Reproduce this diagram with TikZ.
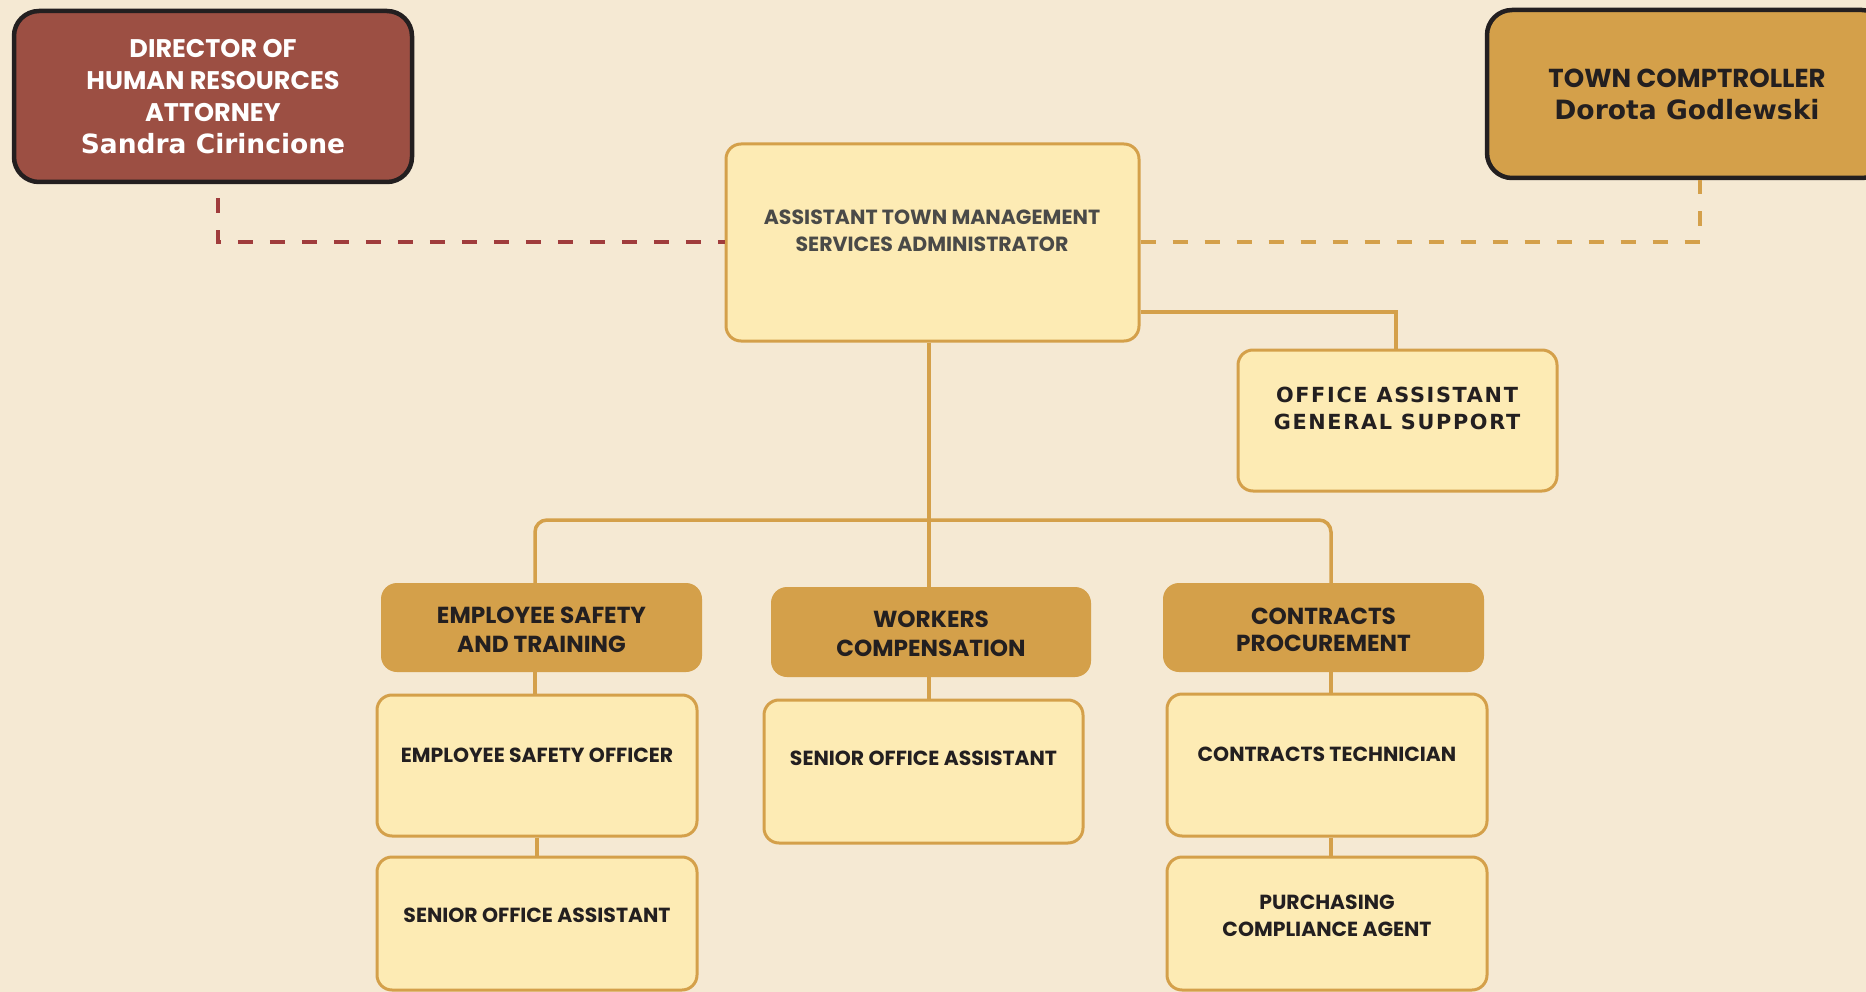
\documentclass[tikz,border=0pt]{standalone}
\usepackage{fontspec}
\newfontfamily\fut{Poppins}
\newfontfamily\ver{DejaVu Sans}
\newfontfamily\verls{DejaVu Sans}[LetterSpace=8]
\definecolor{bgc}{HTML}{F5E9D3}
\definecolor{lightc}{HTML}{FDEBB4}
\definecolor{goldc}{HTML}{D4A04A}
\definecolor{dirc}{HTML}{9C4F43}
\definecolor{redc}{HTML}{A03C3C}
\definecolor{darkc}{HTML}{231F20}
\definecolor{grayc}{HTML}{4A4A48}
\tikzset{
  lbox/.style={draw=goldc, line width=3pt, fill=lightc, rounded corners=15pt, inner sep=0pt},
  hbox/.style={fill=goldc, rounded corners=16pt, inner sep=0pt, minimum width=321pt, minimum height=89pt},
  topbox/.style={draw=darkc, line width=4.5pt, rounded corners=25pt, inner sep=0pt},
  ftxt/.style={font=\fut\bfseries\fontsize{20.4}{27}\selectfont, align=center, text=darkc, inner sep=0pt},
  htxt/.style={font=\fut\bfseries\fontsize{23.2}{28.5}\selectfont, align=center, text=darkc, inner sep=0pt},
  conn/.style={draw=goldc, line width=3.5pt},
  reddash/.style={draw=redc, line width=4pt, dash pattern=on 15pt off 17pt},
  golddash/.style={draw=goldc, line width=4pt, dash pattern=on 15pt off 17pt}
}
\begin{document}
\begin{tikzpicture}[x=1pt,y=-1pt]
\fill[bgc] (0,0) rectangle (1866,992);
\useasboundingbox (0,0) rectangle (1866,992);
\clip (0,0) rectangle (1866,992);

% top boxes
\node[topbox, fill=dirc, minimum width=398pt, minimum height=171pt, text=white, align=center,
  font=\fut\bfseries\fontsize{25.5}{32}\selectfont] (dir) at (213,96.5)
  {DIRECTOR OF\\ HUMAN RESOURCES\\ ATTORNEY\\ \ver\bfseries\fontsize{26.5}{32}\selectfont Sandra Cirincione};
\node[topbox, fill=goldc, minimum width=400pt, minimum height=168pt, text=darkc, align=center,
  font=\fut\bfseries\fontsize{26}{32}\selectfont] (comp) at (1687,94)
  {TOWN COMPTROLLER\\ \ver\bfseries\fontsize{26.6}{32}\selectfont Dorota Godlewski};

% main box
\node[lbox, minimum width=413pt, minimum height=197pt] (atms) at (932.5,242.5) {};
\node[ftxt, text=grayc, font=\fut\bfseries\fontsize{20.5}{27}\selectfont] (atmst) at (932,231) {ASSISTANT TOWN MANAGEMENT\\SERVICES ADMINISTRATOR};

% office assistant
\node[lbox, minimum width=319pt, minimum height=141pt] (oa) at (1397.5,420.5) {};
\node[font=\verls\bfseries\fontsize{20.8}{27}\selectfont, align=center, text=darkc, inner sep=0pt] (oat) at (1397,408) {OFFICE ASSISTANT\\GENERAL SUPPORT};

% headers
\node[hbox] (est) at (541.5,627.5) {};
\node[htxt] (estt) at (541.5,630) {EMPLOYEE SAFETY\\AND TRAINING};
\node[hbox, minimum width=320pt, minimum height=90pt] (wc) at (931,632) {};
\node[htxt] (wct) at (931,634) {WORKERS\\COMPENSATION};
\node[hbox] (cp) at (1323.5,627.5) {};
\node[htxt, font=\fut\bfseries\fontsize{23.2}{26.5}\selectfont] (cpt) at (1323.5,630) {CONTRACTS\\PROCUREMENT};

% lower boxes
\node[lbox, minimum width=320pt, minimum height=141pt] (eso) at (537,765.5) {};
\node[ftxt] (esot) at (537,755) {EMPLOYEE SAFETY OFFICER};
\node[lbox, minimum width=320pt, minimum height=133pt] (soa1) at (537,923.5) {};
\node[ftxt] (soa1t) at (537,915) {SENIOR OFFICE ASSISTANT};
\node[lbox, minimum width=319pt, minimum height=143pt] (soa2) at (923.5,771.5) {};
\node[ftxt] (soa2t) at (923.5,758) {SENIOR OFFICE ASSISTANT};
\node[lbox, minimum width=320pt, minimum height=142pt] (ct) at (1327,765) {};
\node[ftxt] (ctt) at (1327,754) {CONTRACTS TECHNICIAN};
\node[lbox, minimum width=320pt, minimum height=133pt] (pca) at (1327,923.5) {};
\node[ftxt] (pcat) at (1327,915.5) {PURCHASING\\COMPLIANCE AGENT};

% connectors
\coordinate (bus) at (929,520);
\coordinate (oaj) at (1396,312);
\draw[conn] ([xshift=-3.5pt]atms.south) -- ([xshift=-2pt]wc.north);
\draw[conn, rounded corners=12pt] ([xshift=-6.5pt]est.north) |- (bus) -| ([xshift=7.5pt]cp.north);
\draw[conn] (atms.east |- oaj) -| ([xshift=-1.5pt]oa.north);
\draw[conn] ([xshift=-6.5pt]est.south) -- ([xshift=-2pt]eso.north);
\draw[conn] (eso.south) -- (soa1.north);
\draw[conn] ([xshift=-2pt]wc.south) -- ([xshift=5.5pt]soa2.north);
\draw[conn] ([xshift=7.5pt]cp.south) -- ([xshift=4pt]ct.north);
\draw[conn] ([xshift=4pt]ct.south) -- ([xshift=4pt]pca.north);

\draw[reddash] ([xshift=5pt,yshift=-14pt]dir.south) |- (atms.west);
\draw[golddash] (atms.east) -| ([xshift=13pt]comp.south);
\end{tikzpicture}
\end{document}
